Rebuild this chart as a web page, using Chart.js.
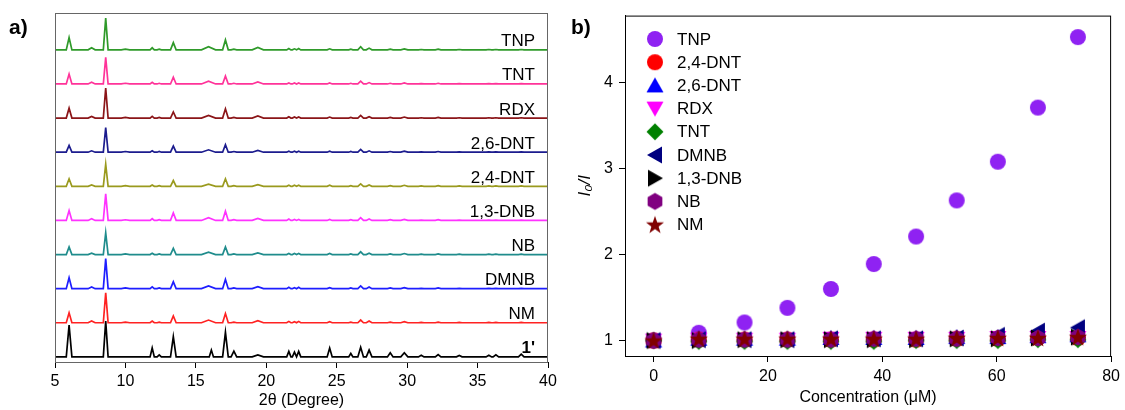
<!DOCTYPE html>
<html>
<head>
<meta charset="utf-8">
<script src="https://cdn.jsdelivr.net/npm/chart.js@4.4.0/dist/chart.umd.min.js"></script>
<style>
    body { margin: 0; background: #fff; width: 1125px; height: 410px; overflow: hidden; position: relative; font-family: "Liberation Sans", Arial, sans-serif; }
    .panel { position: absolute; top: 0; height: 410px; }
    #pa { left: 0; width: 562px; }
    #pb { left: 562px; width: 563px; }
    .tag { position: absolute; top: 15px; font-weight: bold; font-size: 21px; color: #000; }
</style>
</head>
<body>
<div class="panel" id="pa"><canvas id="xrd"></canvas></div>
<div class="panel" id="pb"><canvas id="quench"></canvas></div>
<div class="tag" style="left:9px">a)</div>
<div class="tag" style="left:571px">b)</div>
<script>
// ---- panel a) PXRD patterns, top to bottom ----
var xrdNames = ['TNP', 'TNT', 'RDX', '2,6-DNT', '2,4-DNT', '1,3-DNB', 'NB', 'DMNB', 'NM', "1'"];
var xrdColors = ['#2f9a2a', '#ff3399', '#8b1518', '#1c1c8e', '#9a9a1e', '#ff33ff', '#1f8c8c', '#1e1eff', '#ff2222', '#000000'];
var xrdTicks = [5, 10, 15, 20, 25, 30, 35, 40];

// peak positions (2theta) and half widths at the base
var peakPos   = [6.0, 7.6, 8.6, 10.0, 11.9, 12.4, 13.4, 15.9, 16.1, 17.1, 17.7, 19.4, 21.6, 22.0, 22.3, 24.5, 26.0, 26.7, 27.3, 28.8, 29.8, 31.0, 32.2, 33.7, 35.8, 36.3, 38.1];
var peakWidth = [0.2, 0.25, 0.17, 0.3, 0.15, 0.15, 0.2, 0.5, 0.15, 0.2, 0.2, 0.4, 0.15, 0.15, 0.15, 0.18, 0.15, 0.2, 0.2, 0.2, 0.25, 0.2, 0.2, 0.2, 0.2, 0.2, 0.2];

// peak heights, one unit = spacing between patterns
var hTNP   = [0.36, 0.06, 0.93, 0.02, 0.06, 0.02, 0.21, 0.09, 0, 0.29, 0.02, 0.07, 0.04, 0.03, 0.04, 0.03, 0.02, 0.09, 0.05, 0.02, 0.03, 0.01, 0.02, 0.01, 0.01, 0.01, 0.01];
var hTNT   = [0.29, 0.05, 0.78, 0.02, 0.05, 0.02, 0.20, 0.08, 0, 0.23, 0.02, 0.06, 0.03, 0.03, 0.03, 0.03, 0.02, 0.08, 0.04, 0.02, 0.03, 0.01, 0.02, 0.01, 0.01, 0.01, 0.01];
var hRDX   = [0.29, 0.05, 0.88, 0.02, 0.05, 0.02, 0.18, 0.08, 0, 0.27, 0.02, 0.06, 0.04, 0.03, 0.03, 0.03, 0.02, 0.08, 0.04, 0.02, 0.03, 0.01, 0.02, 0.01, 0.01, 0.01, 0.01];
var h26DNT = [0.20, 0.04, 0.72, 0.02, 0.04, 0.02, 0.18, 0.07, 0, 0.22, 0.02, 0.05, 0.03, 0.03, 0.03, 0.03, 0.02, 0.08, 0.04, 0.02, 0.03, 0.01, 0.02, 0.01, 0.01, 0.01, 0.01];
var h24DNT = [0.22, 0.04, 0.65, 0.02, 0.04, 0.02, 0.17, 0.06, 0, 0.22, 0.02, 0.05, 0.03, 0.03, 0.03, 0.03, 0.02, 0.07, 0.04, 0.02, 0.03, 0.01, 0.02, 0.01, 0.01, 0.01, 0.01];
var h13DNB = [0.29, 0.05, 0.78, 0.02, 0.05, 0.02, 0.22, 0.08, 0, 0.27, 0.02, 0.06, 0.04, 0.03, 0.03, 0.03, 0.02, 0.08, 0.04, 0.02, 0.03, 0.01, 0.02, 0.01, 0.01, 0.01, 0.01];
var hNB    = [0.22, 0.04, 0.64, 0.02, 0.04, 0.02, 0.18, 0.07, 0, 0.22, 0.02, 0.05, 0.03, 0.03, 0.03, 0.03, 0.02, 0.08, 0.04, 0.02, 0.03, 0.01, 0.02, 0.01, 0.01, 0.01, 0.01];
var hDMNB  = [0.32, 0.05, 0.88, 0.02, 0.05, 0.02, 0.20, 0.08, 0, 0.27, 0.02, 0.06, 0.04, 0.03, 0.04, 0.03, 0.02, 0.08, 0.05, 0.02, 0.03, 0.01, 0.02, 0.01, 0.01, 0.01, 0.01];
var hNM    = [0.29, 0.05, 0.88, 0.02, 0.05, 0.02, 0.20, 0.08, 0, 0.27, 0.02, 0.06, 0.04, 0.03, 0.04, 0.03, 0.02, 0.08, 0.05, 0.02, 0.03, 0.01, 0.02, 0.01, 0.01, 0.01, 0.01];
var h1     = [0.93, 0, 1.05, 0, 0.26, 0.06, 0.59, 0, 0.20, 0.72, 0.17, 0.06, 0.16, 0.14, 0.16, 0.26, 0.10, 0.28, 0.20, 0.12, 0.12, 0.05, 0.07, 0.04, 0.05, 0.06, 0.08];
var xrdHeights = [hTNP, hTNT, hRDX, h26DNT, h24DNT, h13DNB, hNB, hDMNB, hNM, h1];

// ---- panel b) quenching ----
var conc = [0, 7.9, 15.9, 23.4, 31.0, 38.5, 45.9, 53.0, 60.2, 67.2, 74.2];
var qNames = ['TNP', '2,4-DNT', '2,6-DNT', 'RDX', 'TNT', 'DMNB', '1,3-DNB', 'NB', 'NM'];
var qTNP   = [1.0, 1.09, 1.21, 1.38, 1.60, 1.89, 2.21, 2.63, 3.08, 3.71, 4.53];
var q24DNT = [1.0, 1.01, 1.01, 1.01, 1.01, 1.01, 1.01, 1.02, 1.02, 1.03, 1.03];
var q26DNT = [1.0, 1.02, 1.02, 1.02, 1.03, 1.03, 1.03, 1.04, 1.04, 1.05, 1.06];
var qRDX   = [1.0, 1.01, 1.01, 1.01, 1.02, 1.02, 1.02, 1.02, 1.03, 1.03, 1.03];
var qTNT   = [1.0, 0.99, 0.99, 0.99, 0.99, 0.99, 1.0, 1.0, 1.0, 1.01, 1.01];
var qDMNB  = [1.0, 1.01, 1.01, 1.01, 1.02, 1.02, 1.02, 1.03, 1.06, 1.11, 1.15];
var q13DNB = [1.0, 1.0, 1.01, 1.01, 1.01, 1.01, 1.01, 1.02, 1.02, 1.03, 1.04];
var qNB    = [1.0, 1.01, 1.01, 1.01, 1.01, 1.02, 1.02, 1.02, 1.03, 1.03, 1.04];
var qNM    = [1.0, 1.02, 1.02, 1.02, 1.02, 1.02, 1.02, 1.03, 1.03, 1.03, 1.04];
var qValues = [qTNP, q24DNT, q26DNT, qRDX, qTNT, qDMNB, q13DNB, qNB, qNM];
var qColors = ['#8f22f2', '#ff0000', '#0000ff', '#ff00ff', '#008000', '#000080', '#000000', '#800080', '#800000'];
var qShapes = ['circle', 'circle', 'triUp', 'triDown', 'diamond', 'triLeft', 'triRight', 'hexagon', 'star'];
var qxTicks = [0, 20, 40, 60, 80];
var qyTicks = [1, 2, 3, 4];

Chart.defaults.font.family = '"Liberation Sans", Arial, sans-serif';
Chart.defaults.color = '#000';

// build the stacked line data from the peak tables
var xrdSets = xrdNames.map(function (name, i) {
    var base = xrdNames.length - 1 - i;
    var pts = [{ x: 5, y: base }];
    peakPos.forEach(function (p, j) {
        var h = xrdHeights[i][j];
        if (!h) return;
        pts.push({ x: p - peakWidth[j], y: base });
        pts.push({ x: p, y: base + h });
        pts.push({ x: p + peakWidth[j], y: base });
    });
    pts.push({ x: 40, y: base });
    return { label: name, data: pts, borderColor: xrdColors[i], borderWidth: 1.7, pointRadius: 0, fill: false };
});

var xrdDecor = {
    id: 'xrdDecor',
    afterDatasetsDraw: function (chart) {
        var c = chart.ctx, a = chart.chartArea, y = chart.scales.y;
        c.save();
        c.strokeStyle = '#666';
        c.lineWidth = 1;
        c.strokeRect(a.left + 0.5, a.top + 0.5, a.right - a.left - 1, a.bottom - a.top);
        c.fillStyle = '#000';
        c.textAlign = 'right';
        c.textBaseline = 'alphabetic';
        xrdNames.forEach(function (name, i) {
            c.font = (i === xrdNames.length - 1 ? 'bold ' : '') + '17px "Liberation Sans", Arial, sans-serif';
            c.fillText(name, a.right - 13, y.getPixelForValue(xrdNames.length - 1 - i) - 3.5);
        });
        c.restore();
    }
};

new Chart(document.getElementById('xrd'), {
    type: 'line',
    data: { datasets: xrdSets },
    options: {
        animation: false,
        responsive: true,
        maintainAspectRatio: false,
        layout: { padding: { left: 55, right: 14, top: 13, bottom: 0 } },
        plugins: { legend: { display: false }, tooltip: { enabled: false } },
        elements: { line: { tension: 0 } },
        scales: {
            x: {
                type: 'linear', min: 5, max: 40,
                afterBuildTicks: function (s) { s.ticks = xrdTicks.map(function (v) { return { value: v }; }); },
                afterFit: function (s) { s.height = 48; },
                grid: { drawOnChartArea: false, tickLength: 6, tickColor: '#000' },
                border: { color: '#000' },
                ticks: { font: { size: 16 }, padding: 4, maxRotation: 0 },
                title: { display: true, text: '2θ (Degree)', font: { size: 16 }, padding: { top: 0, bottom: 0 } }
            },
            y: { display: false, min: -0.15, max: 10.08 }
        }
    },
    plugins: [xrdDecor]
});

// marker images for panel b)
function marker(shape, color) {
    var cv = document.createElement('canvas');
    cv.width = 20; cv.height = 20;
    var c = cv.getContext('2d');
    c.fillStyle = color;
    c.beginPath();
    if (shape === 'circle') {
        c.arc(10, 10, 8, 0, Math.PI * 2);
    } else if (shape === 'triUp') {
        c.moveTo(10, 2); c.lineTo(18.5, 17); c.lineTo(1.5, 17);
    } else if (shape === 'triDown') {
        c.moveTo(10, 18); c.lineTo(18.5, 3); c.lineTo(1.5, 3);
    } else if (shape === 'triLeft') {
        c.moveTo(2, 10); c.lineTo(17, 1.5); c.lineTo(17, 18.5);
    } else if (shape === 'triRight') {
        c.moveTo(18, 10); c.lineTo(3, 1.5); c.lineTo(3, 18.5);
    } else if (shape === 'diamond') {
        c.moveTo(10, 1.5); c.lineTo(18.5, 10); c.lineTo(10, 18.5); c.lineTo(1.5, 10);
    } else if (shape === 'hexagon') {
        for (var k = 0; k < 6; k++) {
            var a = -Math.PI / 2 + k * Math.PI / 3;
            c.lineTo(10 + 8.5 * Math.cos(a), 10 + 8.5 * Math.sin(a));
        }
    } else if (shape === 'star') {
        for (var s = 0; s < 10; s++) {
            var r = s % 2 ? 3.8 : 9.5;
            var b = -Math.PI / 2 + s * Math.PI / 5;
            c.lineTo(10 + r * Math.cos(b), 10.8 + r * Math.sin(b));
        }
    }
    c.closePath();
    c.fill();
    return cv;
}
var qMarkers = qShapes.map(function (s, i) { return marker(s, qColors[i]); });

var qSets = qNames.map(function (name, i) {
    return {
        label: name,
        data: conc.map(function (x, j) { return { x: x, y: qValues[i][j] }; }),
        pointStyle: qMarkers[i],
        pointRadius: 8,
        showLine: false,
        order: qNames.length - i
    };
});

var quenchDecor = {
    id: 'quenchDecor',
    afterDraw: function (chart) {
        var c = chart.ctx, a = chart.chartArea;
        c.save();
        c.strokeStyle = '#000';
        c.lineWidth = 1;
        c.strokeRect(a.left + 0.5, a.top + 0.5, a.right - a.left - 1, a.bottom - a.top);
        c.fillStyle = '#000';
        c.font = '17px "Liberation Sans", Arial, sans-serif';
        c.textAlign = 'left';
        c.textBaseline = 'middle';
        qNames.forEach(function (name, i) {
            var yy = 39 + i * 23.2;
            c.drawImage(qMarkers[i], 93 - 10, yy - 10);
            c.fillText(name, 115, yy + 1);
        });
        c.restore();
    }
};

new Chart(document.getElementById('quench'), {
    type: 'scatter',
    data: { datasets: qSets },
    options: {
        animation: false,
        responsive: true,
        maintainAspectRatio: false,
        layout: { padding: { left: 0, right: 12, top: 13, bottom: 0 } },
        plugins: { legend: { display: false }, tooltip: { enabled: false } },
        scales: {
            x: {
                type: 'linear', min: -5, max: 80,
                afterBuildTicks: function (s) { s.ticks = qxTicks.map(function (v) { return { value: v }; }); },
                afterFit: function (s) { s.height = 54; },
                grid: { drawOnChartArea: false, tickLength: 6, tickColor: '#000' },
                border: { color: '#000' },
                ticks: { font: { size: 16 }, padding: 5, maxRotation: 0 },
                title: { display: true, text: 'Concentration (μM)', font: { size: 16 }, padding: { top: 0, bottom: 3 } }
            },
            y: {
                type: 'linear', min: 0.82, max: 4.78,
                afterBuildTicks: function (s) { s.ticks = qyTicks.map(function (v) { return { value: v }; }); },
                afterFit: function (s) { s.width = 63; },
                grid: { drawOnChartArea: false, tickLength: 6, tickColor: '#000' },
                border: { color: '#000' },
                ticks: { font: { size: 16 }, padding: 6 },
                title: { display: true, text: 'I₀/I', font: { size: 17, style: 'italic' }, padding: { top: 13, bottom: 0 } }
            }
        }
    },
    plugins: [quenchDecor]
});
</script>
</body>
</html>
